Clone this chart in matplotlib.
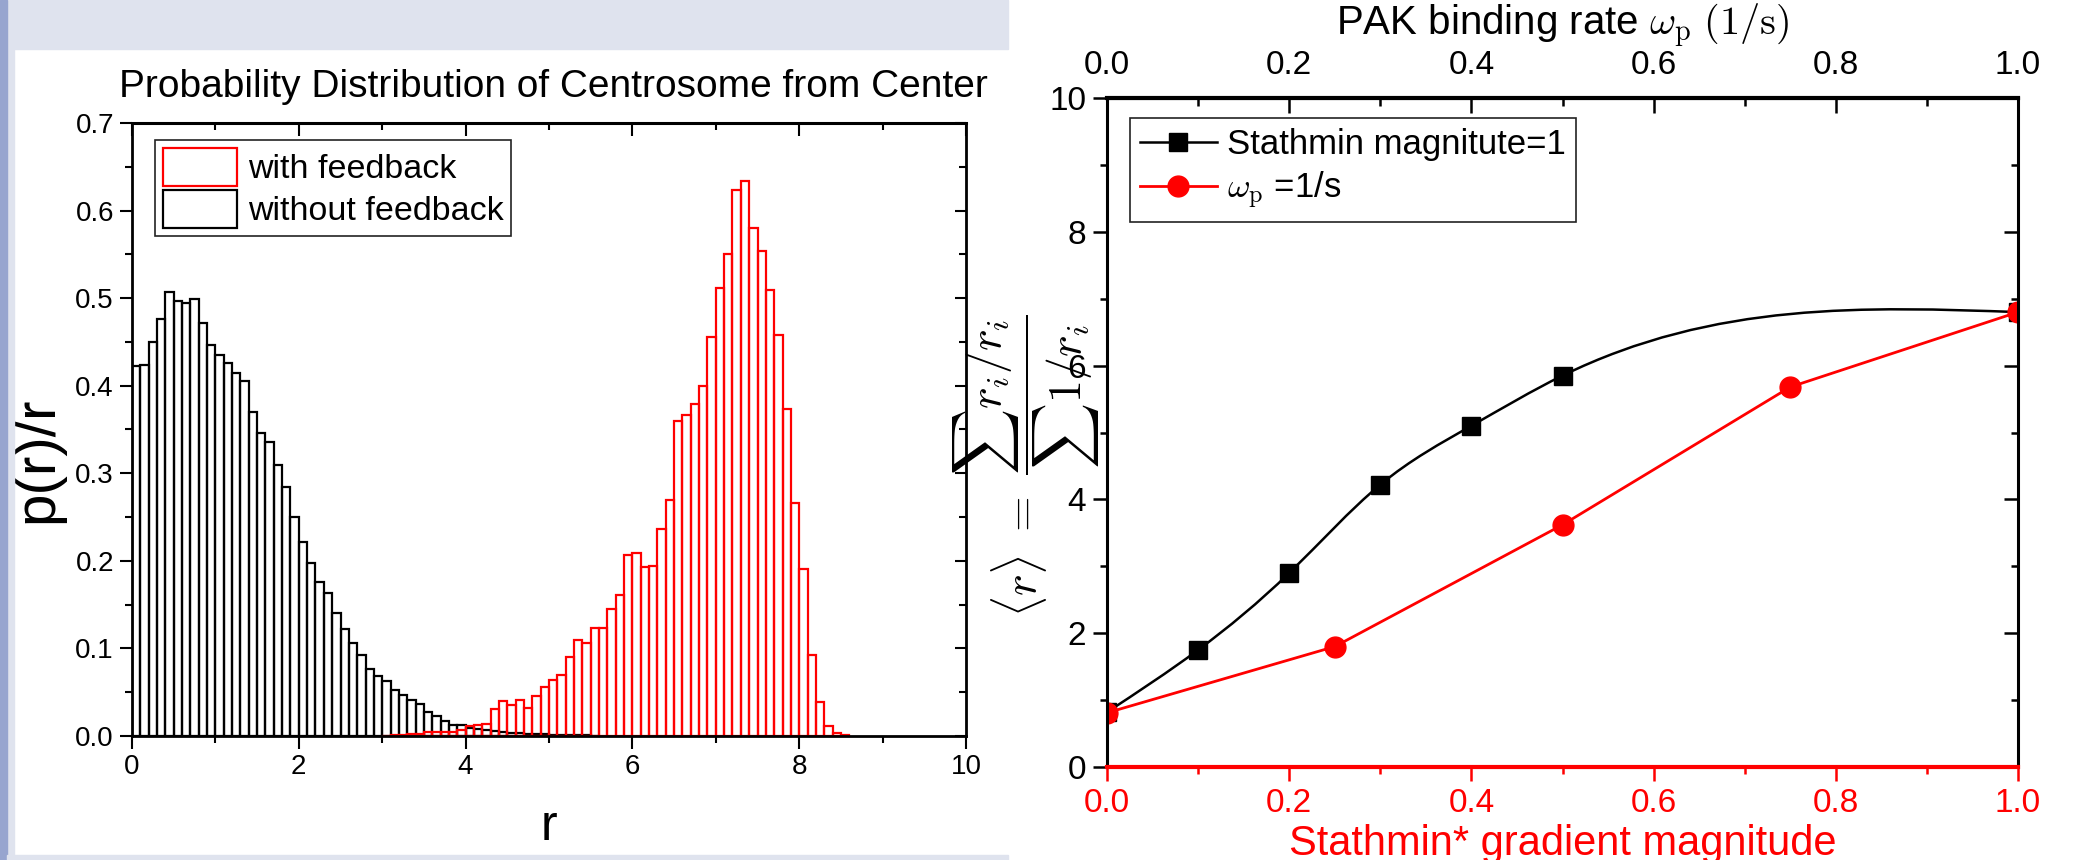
import numpy as np
import matplotlib
matplotlib.use("Agg")
import matplotlib.pyplot as plt
from matplotlib.patches import Rectangle, Patch, PathPatch
from matplotlib.lines import Line2D
from matplotlib.path import Path
from matplotlib.ticker import MultipleLocator, FormatStrFormatter

plt.rcParams['font.family'] = ['Liberation Sans', 'DejaVu Sans']
plt.rcParams['mathtext.fontset'] = 'cm'

# ---- left panel: histograms, bins of width 0.1 ----
bin_width = 0.1
no_fb_start = 0.0
no_feedback = [0.422, 0.424, 0.450, 0.476, 0.507, 0.497, 0.494, 0.499, 0.472, 0.447,
               0.435, 0.426, 0.415, 0.405, 0.370, 0.346, 0.336, 0.310, 0.284, 0.250,
               0.221, 0.197, 0.176, 0.163, 0.141, 0.122, 0.106, 0.093, 0.077, 0.069,
               0.063, 0.053, 0.047, 0.041, 0.037, 0.027, 0.023, 0.017, 0.013, 0.012,
               0.0095, 0.008, 0.0065, 0.0053, 0.0045, 0.0038, 0.003, 0.0027, 0.0023, 0.0019,
               0.0015, 0.0012, 0.001, 0.0008, 0.0006, 0.0004]
fb_start = 3.0
with_feedback = [0.0005, 0.001, 0.0015, 0.002, 0.002, 0.004, 0.005, 0.005, 0.005, 0.007,
                 0.0115, 0.012, 0.014, 0.0305, 0.040, 0.0354, 0.041, 0.0316, 0.0457, 0.056,
                 0.0634, 0.070, 0.0906, 0.1096, 0.1058, 0.123, 0.123, 0.1447, 0.161, 0.2067,
                 0.2086, 0.1933, 0.1945, 0.236, 0.2695, 0.360, 0.366, 0.379, 0.400, 0.456,
                 0.512, 0.550, 0.623, 0.634, 0.580, 0.554, 0.509, 0.458, 0.373, 0.2665,
                 0.1905, 0.092, 0.039, 0.011, 0.0036, 0.0014]

# ---- right panel ----
pak_rate = [0.0, 0.1, 0.2, 0.3, 0.4, 0.5, 1.0]
r_mean_pak = [0.82, 1.75, 2.90, 4.22, 5.10, 5.85, 6.80]
grad_mag = [0.0, 0.25, 0.5, 0.75, 1.0]
r_mean_grad = [0.81, 1.80, 3.62, 5.68, 6.80]

W, H = 2087, 860
fig = plt.figure(figsize=(W / 100, H / 100), dpi=100)


def fx(px):
    return px / W


def fy(py):
    return 1 - py / H


# slide decorations
fig.patches.append(Rectangle((0, fy(49)), fx(1008), 49 / H, transform=fig.transFigure,
                             color='#dfe3ee', zorder=0))
fig.patches.append(Rectangle((0, 0), fx(14), 1, transform=fig.transFigure,
                             color='#dfe3ee', zorder=0))
fig.patches.append(Rectangle((0, 0), fx(7), 1, transform=fig.transFigure,
                             color='#97a5cf', zorder=0))
fig.patches.append(Rectangle((fx(7), 0), fx(1001), 5 / H, transform=fig.transFigure,
                             color='#dfe3ee', zorder=0))

# ================= left chart =================
ax1 = fig.add_axes([fx(132), fy(736), (966 - 132) / W, (736 - 123) / H])
x_nf = no_fb_start + bin_width * np.arange(len(no_feedback))
x_f = fb_start + bin_width * np.arange(len(with_feedback))
ax1.bar(x_nf, no_feedback, width=bin_width, align='edge', fill=False,
        edgecolor='black', linewidth=1.6)
ax1.bar(x_f, with_feedback, width=bin_width, align='edge', fill=False,
        edgecolor='#ff0000', linewidth=1.6)
ax1.set_xlim(0, 10)
ax1.set_ylim(0, 0.7)
ax1.xaxis.set_major_locator(MultipleLocator(2))
ax1.xaxis.set_minor_locator(MultipleLocator(1))
ax1.yaxis.set_major_locator(MultipleLocator(0.1))
ax1.yaxis.set_minor_locator(MultipleLocator(0.05))
ax1.yaxis.set_major_formatter(FormatStrFormatter('%.1f'))
ax1.tick_params(which='both', direction='out', width=1.5, labelsize=20)
ax1.tick_params(which='major', length=9, pad=4)
ax1.tick_params(which='minor', length=5)
for s in ax1.spines.values():
    s.set_linewidth(2)
top1 = ax1.secondary_xaxis('top')
top1.xaxis.set_major_locator(MultipleLocator(2))
top1.xaxis.set_minor_locator(MultipleLocator(1))
top1.tick_params(which='both', direction='in', width=1.5, labeltop=False)
top1.tick_params(which='major', length=9)
top1.tick_params(which='minor', length=5)
top1.spines['top'].set_linewidth(2.2)
right1 = ax1.secondary_yaxis('right')
right1.yaxis.set_major_locator(MultipleLocator(0.1))
right1.yaxis.set_minor_locator(MultipleLocator(0.05))
right1.tick_params(which='both', direction='in', width=1.5, labelright=False)
right1.tick_params(which='major', length=8)
right1.tick_params(which='minor', length=5)

ax1.text(0.505, 1.058, "Probability Distribution of Centrosome from Center",
         transform=ax1.transAxes, ha='center', va='center', fontsize=28)
ax1.text(0.5, -0.17, "r", transform=ax1.transAxes, ha='center', va='baseline', fontsize=36)
ax1.text(-0.113, 0.45, "p(r)/r", transform=ax1.transAxes, ha='center', va='center',
         rotation=90, fontsize=42)

h_left = [Patch(facecolor='white', edgecolor='#ff0000', linewidth=1.6),
          Patch(facecolor='white', edgecolor='black', linewidth=1.6)]
leg1 = ax1.legend(h_left, ["with feedback", "without feedback"], loc='upper left',
                  bbox_to_anchor=(0.0276, 0.972), borderaxespad=0, fontsize=24.5,
                  handlelength=2.2, handleheight=1.35, handletextpad=0.3,
                  labelspacing=0.12, borderpad=0.22, fancybox=False, framealpha=1)
leg1.get_frame().set_edgecolor('#222222')
leg1.get_frame().set_linewidth(1.2)

# ================= right chart =================
ax2 = fig.add_axes([fx(1107), fy(767), (2018 - 1107) / W, (767 - 98) / H])
ax2.set_xlim(0, 1)
ax2.set_ylim(0, 10)


def spline_slopes(x, y):
    # natural cubic spline slopes at the knots (for the smooth connecting line)
    x = np.asarray(x, float)
    y = np.asarray(y, float)
    n = len(x)
    h = np.diff(x)
    A = np.zeros((n, n))
    b = np.zeros(n)
    A[0, 0] = 1
    A[-1, -1] = 1
    for i in range(1, n - 1):
        A[i, i - 1] = h[i - 1]
        A[i, i] = 2 * (h[i - 1] + h[i])
        A[i, i + 1] = h[i]
        b[i] = 6 * ((y[i + 1] - y[i]) / h[i] - (y[i] - y[i - 1]) / h[i - 1])
    M = np.linalg.solve(A, b)
    m = np.empty(n)
    m[:-1] = (y[1:] - y[:-1]) / h - h * (2 * M[:-1] + M[1:]) / 6
    m[-1] = (y[-1] - y[-2]) / h[-1] + h[-1] * (M[-2] + 2 * M[-1]) / 6
    return m


m = spline_slopes(pak_rate, r_mean_pak)
verts = [(pak_rate[0], r_mean_pak[0])]
codes = [Path.MOVETO]
for i in range(len(pak_rate) - 1):
    x0, x1 = pak_rate[i], pak_rate[i + 1]
    y0, y1 = r_mean_pak[i], r_mean_pak[i + 1]
    hh = x1 - x0
    verts += [(x0 + hh / 3, y0 + m[i] * hh / 3), (x1 - hh / 3, y1 - m[i + 1] * hh / 3), (x1, y1)]
    codes += [Path.CURVE4] * 3
ax2.add_patch(PathPatch(Path(verts, codes), fill=False, edgecolor='black', linewidth=1.8))
ax2.plot(pak_rate, r_mean_pak, linestyle='none', marker='s', markersize=13,
         color='black')
ax2.plot(grad_mag, r_mean_grad, color='#ff0000', linewidth=2.0, marker='o',
         markersize=15)

ax2.xaxis.set_major_locator(MultipleLocator(0.2))
ax2.xaxis.set_minor_locator(MultipleLocator(0.1))
ax2.yaxis.set_major_locator(MultipleLocator(2))
ax2.yaxis.set_minor_locator(MultipleLocator(1))
ax2.xaxis.set_major_formatter(FormatStrFormatter('%.1f'))
ax2.tick_params(which='both', direction='out', width=1.8, labelsize=24, pad=5)
ax2.tick_params(which='major', length=10)
ax2.tick_params(which='minor', length=5)
ax2.tick_params(axis='x', which='both', colors='#ff0000')
for s in ax2.spines.values():
    s.set_linewidth(2.2)
ax2.spines['bottom'].set_color('#ff0000')
ax2.spines['bottom'].set_linewidth(3)

top2 = ax2.secondary_xaxis('top')
top2.xaxis.set_major_locator(MultipleLocator(0.2))
top2.xaxis.set_minor_locator(MultipleLocator(0.1))
top2.xaxis.set_major_formatter(FormatStrFormatter('%.1f'))
top2.tick_params(which='both', direction='in', width=1.8, labelsize=24, pad=12)
top2.tick_params(which='major', length=11)
top2.tick_params(which='minor', length=6)
top2.spines['top'].set_linewidth(3)
right2 = ax2.secondary_yaxis('right')
right2.yaxis.set_major_locator(MultipleLocator(2))
right2.yaxis.set_minor_locator(MultipleLocator(1))
right2.tick_params(which='both', direction='in', width=1.8, labelright=False)
right2.tick_params(which='major', length=10)
right2.tick_params(which='minor', length=5)

ax2.text(0.5, 1.108, r"PAK binding rate $\omega_{\rm p}$ $(1/{\rm s})$",
         transform=ax2.transAxes, ha='center', va='center', fontsize=29)
ax2.text(0.5, -0.131, "Stathmin* gradient magnitude", transform=ax2.transAxes,
         ha='center', va='baseline', fontsize=30, color='#ff0000')
ax2.text(-0.088, 0.45, r"$\langle r\rangle\ =\ \dfrac{\sum r_i/r_i}{\sum 1/r_i}$",
         transform=ax2.transAxes, ha='center', va='center', rotation=90, fontsize=33)

h_right = [Line2D([], [], color='black', linewidth=1.8, marker='s', markersize=13),
           Line2D([], [], color='#ff0000', linewidth=2.0, marker='o', markersize=15)]
leg2 = ax2.legend(h_right, ["Stathmin magnitute=1", r"$\omega_{\rm p}$ =1/s"],
                  loc='upper left', bbox_to_anchor=(0.025, 0.970), borderaxespad=0,
                  fontsize=25, handlelength=2.2, handletextpad=0.3, labelspacing=0.25,
                  borderpad=0.3, fancybox=False, framealpha=1)
leg2.get_frame().set_edgecolor('#222222')
leg2.get_frame().set_linewidth(1.2)

fig.savefig("out.png", dpi=100)
